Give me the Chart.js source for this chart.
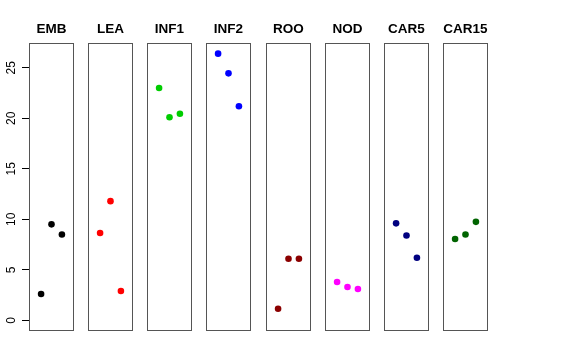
<!DOCTYPE html>
<html>
<head>
<meta charset="utf-8">
<script src="https://cdn.jsdelivr.net/npm/chart.js"></script>
<style>
  html, body { margin: 0; padding: 0; background: #fff; }
  #wrap { position: relative; width: 576px; height: 360px; overflow: hidden; }
  canvas { position: absolute; top: 0; }
</style>
</head>
<body>
<div id="wrap"></div>
<script>
// panel names and point positions
const panels = ['EMB', 'LEA', 'INF1', 'INF2', 'ROO', 'NOD', 'CAR5', 'CAR15'];
const xPos = [1, 2, 3];

// values per panel
const emb   = [2.6, 9.5, 8.5];
const lea   = [8.65, 11.8, 2.9];
const inf1  = [23.0, 20.1, 20.45];
const inf2  = [26.4, 24.45, 21.2];
const roo   = [1.15, 6.1, 6.1];
const nod   = [3.8, 3.3, 3.1];
const car5  = [9.6, 8.4, 6.2];
const car15 = [8.05, 8.5, 9.75];

const series = [emb, lea, inf1, inf2, roo, nod, car5, car15];
const colors = ['#000000', '#ff0000', '#00cd00', '#0000ff', '#8b0000', '#ff00ff', '#000080', '#006400'];

const yTicks = [0, 5, 10, 15, 20, 25];
const yMin = -1.056, yMax = 27.456;
const xMin = -0.16, xMax = 4.16;

const AXIS_W = 29;
const PANEL_W = 45;
const CANVAS_H = 332;
const TOP = 43;
const FONT = 'Liberation Sans, Arial, sans-serif';

const wrap = document.getElementById('wrap');

function addCanvas(left, w) {
    const c = document.createElement('canvas');
    c.width = w;
    c.height = CANVAS_H;
    c.style.width = w + 'px';
    c.style.height = CANVAS_H + 'px';
    c.style.left = left + 'px';
    wrap.appendChild(c);
    return c.getContext('2d');
}

// box around each panel
const boxPlugin = {
    id: 'box',
    afterDatasetsDraw(chart) {
        const { ctx, chartArea: a } = chart;
        ctx.save();
        ctx.strokeStyle = '#555';
        ctx.lineWidth = 1;
        ctx.strokeRect(Math.round(a.left) + 0.5, Math.round(a.top) + 0.5,
            Math.round(a.right - a.left) - 1, Math.round(a.bottom - a.top) - 1);
        ctx.restore();
    }
};

// axis line from first to last tick
const axisLinePlugin = {
    id: 'axisLine',
    afterDraw(chart) {
        const { ctx, chartArea: a } = chart;
        const y = chart.scales.y;
        const x = Math.round(a.left) + 0.5;
        ctx.save();
        ctx.strokeStyle = '#000';
        ctx.lineWidth = 1;
        ctx.beginPath();
        ctx.moveTo(x, y.getPixelForValue(yTicks[0]));
        ctx.lineTo(x, y.getPixelForValue(yTicks[yTicks.length - 1]));
        ctx.stroke();
        ctx.restore();
    }
};

// y axis (drawn once, left of first panel)
new Chart(addCanvas(0, AXIS_W + 1), {
    type: 'scatter',
    data: { datasets: [] },
    options: {
        responsive: false,
        animation: false,
        devicePixelRatio: 1,
        layout: { autoPadding: false, padding: { top: TOP, bottom: 1, left: 0, right: 0 } },
        plugins: { legend: { display: false }, tooltip: { enabled: false } },
        scales: {
            x: { type: 'linear', min: xMin, max: xMax, display: false },
            y: {
                type: 'linear',
                min: yMin,
                max: yMax,
                afterBuildTicks: (s) => { s.ticks = yTicks.map(v => ({ value: v })); },
                afterFit: (s) => { s.width = AXIS_W; s.paddingTop = 0; s.paddingBottom = 0; },
                border: { display: false },
                grid: { drawOnChartArea: false, drawTicks: true, tickLength: 7, color: '#000', lineWidth: 1 },
                ticks: {
                    minRotation: 90,
                    maxRotation: 90,
                    crossAlign: 'center',
                    padding: 4,
                    color: '#000',
                    font: { family: FONT, size: 12 }
                }
            }
        }
    },
    plugins: [axisLinePlugin]
});

panels.forEach((name, i) => {
    const left = Math.round(AXIS_W + i * 59.15);
    new Chart(addCanvas(left, PANEL_W), {
        type: 'scatter',
        data: {
            datasets: [{
                data: xPos.map((x, k) => ({ x: x, y: series[i][k] })),
                backgroundColor: colors[i],
                borderWidth: 0,
                pointRadius: 3.3
            }]
        },
        options: {
            responsive: false,
            animation: false,
            devicePixelRatio: 1,
            layout: { autoPadding: false, padding: { top: 0, bottom: 1, left: 0, right: 0 } },
            plugins: {
                legend: { display: false },
                tooltip: { enabled: false },
                title: {
                    display: true,
                    text: name,
                    color: '#000',
                    font: { family: FONT, size: 13.5, weight: 'bold', lineHeight: 1.2 },
                    padding: { top: 21.4, bottom: 5.4 }
                }
            },
            scales: {
                x: { type: 'linear', min: xMin, max: xMax, display: false },
                y: { type: 'linear', min: yMin, max: yMax, display: false }
            }
        },
        plugins: [boxPlugin]
    });
});
</script>
</body>
</html>
